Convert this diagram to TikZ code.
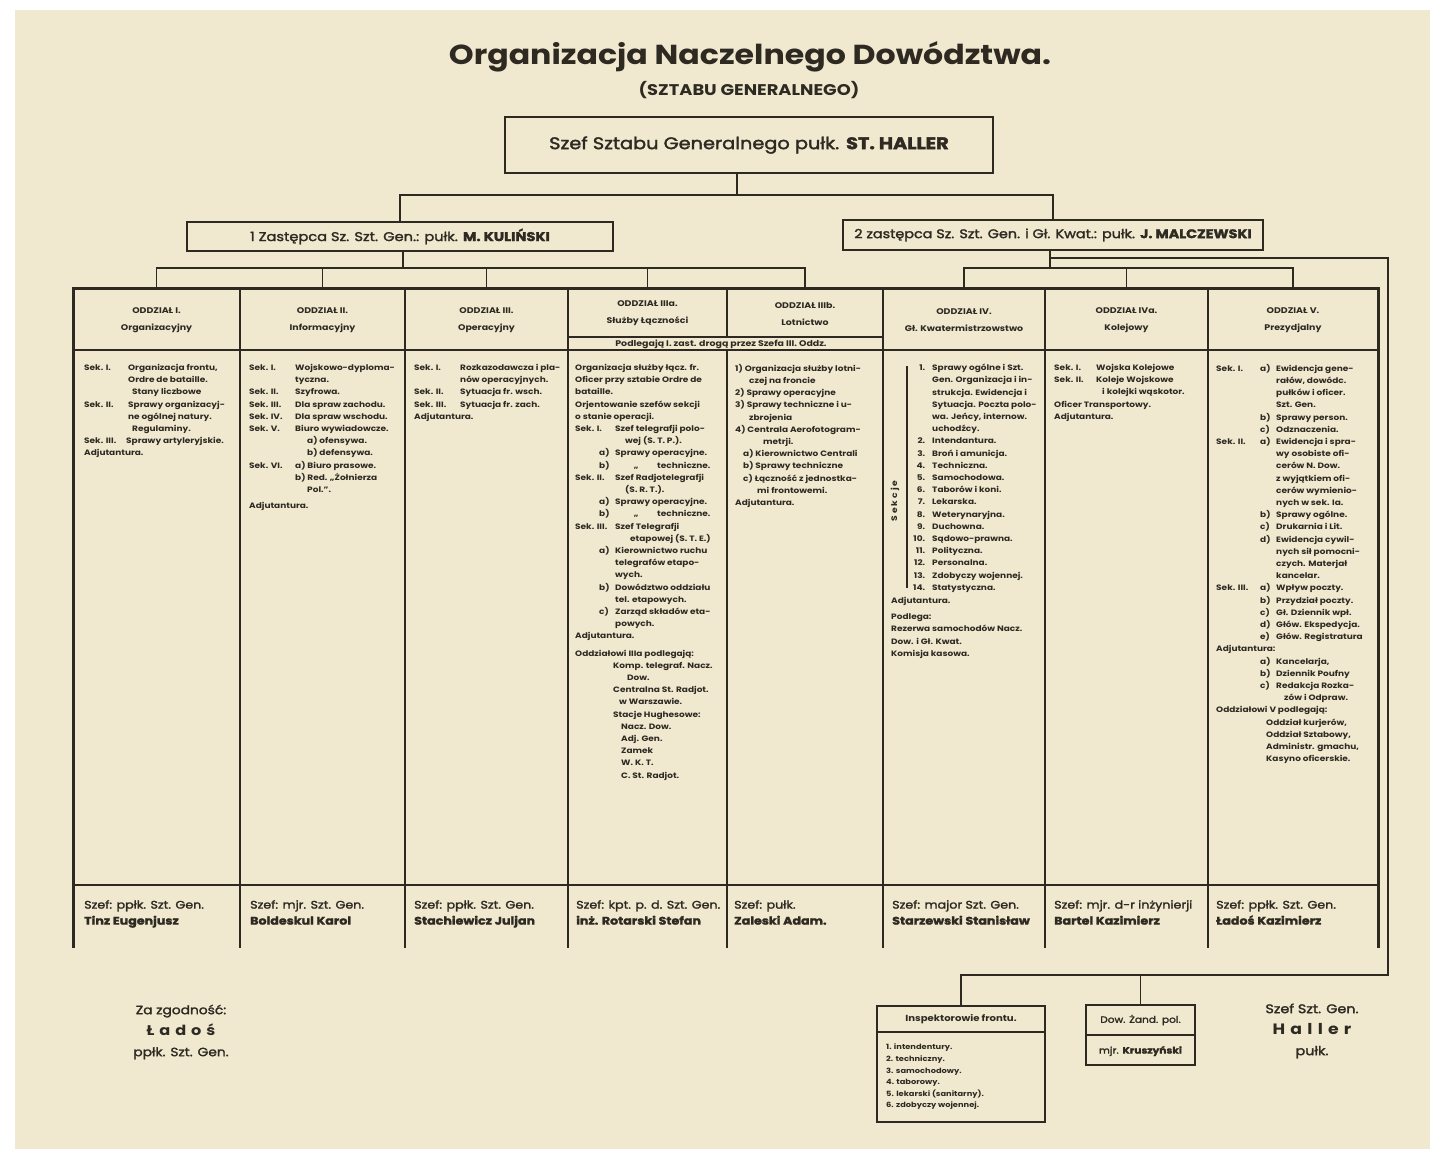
\documentclass[tikz,border=0pt]{standalone}
\usepackage{fontspec}
\setmainfont{Poppins}[FakeStretch=1.15]
\newfontfamily\semi{Poppins}[FakeStretch=1.15, FakeBold=2]
\newfontfamily\wide{Poppins}[FakeStretch=1.15, LetterSpace=35]
\usetikzlibrary{positioning,calc}
\definecolor{paper}{HTML}{F0E9D0}
\definecolor{ink}{HTML}{2E2A22}
\newcommand{\lbl}[2]{\makebox[#1][l]{#2}}
\newcommand{\indt}[1]{\hspace*{#1}}
\newcommand{\itm}[1]{\makebox[16pt][r]{#1}\hspace*{7pt}}

\begin{document}
\begin{tikzpicture}[x=1pt,y=-1pt,
every node/.style={text=ink},
box/.style={draw=ink, line width=1.5pt, inner sep=0pt},
cell/.style={inner sep=0pt, align=center, font=\bfseries\fontsize{8.2}{12}\selectfont},
body/.style={anchor=north west, inner sep=0pt, align=left, font=\bfseries\fontsize{7.8}{12.2}\selectfont},
chief/.style={anchor=north west, inner sep=0pt, align=left, font=\semi\fontsize{11}{16}\selectfont},
link/.style={draw=ink, line width=1.1pt},
grid/.style={draw=ink, line width=1.2pt},
]
\fill[white] (0,0) rectangle (1430,1149);
\fill[paper] (15,10) rectangle (1430,1149);
\useasboundingbox (0,0) rectangle (1430,1149);

%Nodes
\node (title) at (750,57) {\fontsize{27.5}{32}\selectfont\bfseries Organizacja Naczelnego Dowództwa.};
\node (subtitle) at (749,90) {\fontsize{15.5}{18}\selectfont\bfseries (SZTABU GENERALNEGO)};
\node[box, minimum width=488pt, minimum height=56pt] (chief) at (749,145)
  {\semi\fontsize{16.8}{18}\selectfont Szef Sztabu Generalnego pułk. \textbf{ST. HALLER}};
\node[box, minimum width=426pt, minimum height=29pt] (dep1) at (400,236.5)
  {\semi\fontsize{12.7}{14}\selectfont 1 Zastępca Sz. Szt. Gen.: pułk. \textbf{M. KULIŃSKI}};
\node[box, minimum width=420pt, minimum height=30pt] (dep2) at (1053,235)
  {\semi\fontsize{12.5}{14}\selectfont 2 zastępca Sz. Szt. Gen. i Gł. Kwat.: pułk. \textbf{J. MALCZEWSKI}};

% table heads
\foreach \cx/\w/\id/\nr/\ds in {156.5/167/1/I./Organizacyjny, 322.5/165/2/II./Informacyjny,
  486.5/163/3/III./Operacyjny, 964/162/6/IV./Gł. Kwatermistrzowstwo,
  1126.5/163/7/IVa./Kolejowy, 1293/170/8/V./Prezydjalny}
  \node[cell, minimum width=\w pt, minimum height=60pt] (h\id) at (\cx,320)
    {ODDZIAŁ \nr\\[5pt] \ds};
\node[cell, minimum width=159pt, minimum height=47pt] (h4) at (647.5,313.5)
  {ODDZIAŁ IIIa.\\[5pt] Służby Łączności};
\node[cell, minimum width=156pt, minimum height=47pt] (h5) at (805,313.5)
  {ODDZIAŁ IIIb.\\[5pt] Lotnictwo};
\node[cell] (sub45) at (721,344) {Podlegają I. zast. drogą przez Szefa III. Oddz.};

% table bodies
\node[body] (b1) at (84,364) {%
\lbl{44pt}{Sek. I.}Organizacja frontu,\\
\indt{44pt}Ordre de bataille.\\
\indt{48pt}Stany liczbowe\\
\lbl{44pt}{Sek. II.}Sprawy organizacyj-\\
\indt{44pt}ne ogólnej natury.\\
\indt{48pt}Regulaminy.\\
\lbl{42pt}{Sek. III.}Sprawy artyleryjskie.\\
Adjutantura.};
\node[body] (b2) at (249,364) {%
\lbl{46pt}{Sek. I.}Wojskowo-dyploma-\\
\indt{46pt}tyczna.\\
\lbl{46pt}{Sek. II.}Szyfrowa.\\
\lbl{46pt}{Sek. III.}Dla spraw zachodu.\\
\lbl{46pt}{Sek. IV.}Dla spraw wschodu.\\
\lbl{46pt}{Sek. V.}Biuro wywiadowcze.\\
\indt{58pt}a) ofensywa.\\
\indt{58pt}b) defensywa.\\
\lbl{46pt}{Sek. VI.}a) Biuro prasowe.\\
\indt{46pt}b) Red. „Żołnierza\\
\indt{58pt}Pol.”.\\[4pt]
Adjutantura.};
\node[body] (b3) at (414,364) {%
\lbl{46pt}{Sek. I.}Rozkazodawcza i pla-\\
\indt{46pt}nów operacyjnych.\\
\lbl{46pt}{Sek. II.}Sytuacja fr. wsch.\\
\lbl{46pt}{Sek. III.}Sytuacja fr. zach.\\
Adjutantura.};
\node[body] (b4) at (575,364) {%
Organizacja służby łącz. fr.\\
Oficer przy sztabie Ordre de\\
bataille.\\
Orjentowanie szefów sekcji\\
o stanie operacji.\\
\lbl{40pt}{Sek. I.}Szef telegrafji polo-\\
\indt{50pt}wej (S. T. P.).\\
\indt{24pt}\lbl{16pt}{a)}Sprawy operacyjne.\\
\indt{24pt}\lbl{16pt}{b)}\makebox[42pt][c]{„}techniczne.\\
\lbl{40pt}{Sek. II.}Szef Radjotelegrafji\\
\indt{50pt}(S. R. T.).\\
\indt{24pt}\lbl{16pt}{a)}Sprawy operacyjne.\\
\indt{24pt}\lbl{16pt}{b)}\makebox[42pt][c]{„}techniczne.\\
\lbl{40pt}{Sek. III.}Szef Telegrafji\\
\indt{55pt}etapowej (S. T. E.)\\
\indt{24pt}\lbl{16pt}{a)}Kierownictwo ruchu\\
\indt{40pt}telegrafów etapo-\\
\indt{40pt}wych.\\
\indt{24pt}\lbl{16pt}{b)}Dowództwo oddziału\\
\indt{40pt}tel. etapowych.\\
\indt{24pt}\lbl{16pt}{c)}Zarząd składów eta-\\
\indt{40pt}powych.\\
Adjutantura.\\[5pt]
Oddziałowi IIIa podlegają:\\
\indt{38pt}Komp. telegraf. Nacz.\\
\indt{52pt}Dow.\\
\indt{38pt}Centralna St. Radjot.\\
\indt{44pt}w Warszawie.\\
\indt{38pt}Stacje Hughesowe:\\
\indt{46pt}Nacz. Dow.\\
\indt{46pt}Adj. Gen.\\
\indt{46pt}Zamek\\
\indt{46pt}W. K. T.\\
\indt{46pt}C. St. Radjot.};
\node[body] (b5) at (735,364) {%
1) Organizacja służby lotni-\\
\indt{14pt}czej na froncie\\
2) Sprawy operacyjne\\
3) Sprawy techniczne i u-\\
\indt{14pt}zbrojenia\\
4) Centrala Aerofotogram-\\
\indt{28pt}metrji.\\
\indt{8pt}a) Kierownictwo Centrali\\
\indt{8pt}b) Sprawy techniczne\\
\indt{8pt}c) Łączność z jednostka-\\
\indt{22pt}mi frontowemi.\\
Adjutantura.};
\node[body] (b6) at (909,364) {%
\itm{1.}Sprawy ogólne i Szt.\\
\indt{23pt}Gen. Organizacja i in-\\
\indt{23pt}strukcja. Ewidencja i\\
\indt{23pt}Sytuacja. Poczta polo-\\
\indt{23pt}wa. Jeńcy, internow.\\
\indt{23pt}uchodźcy.\\
\itm{2.}Intendantura.\\
\itm{3.}Broń i amunicja.\\
\itm{4.}Techniczna.\\
\itm{5.}Samochodowa.\\
\itm{6.}Taborów i koni.\\
\itm{7.}Lekarska.\\
\itm{8.}Weterynaryjna.\\
\itm{9.}Duchowna.\\
\itm{10.}Sądowo-prawna.\\
\itm{11.}Polityczna.\\
\itm{12.}Personalna.\\
\itm{13.}Zdobyczy wojennej.\\
\itm{14.}Statystyczna.};
\node[body] (a6) at (891,597) {%
Adjutantura.\\[4pt]
Podlega:\\
Rezerwa samochodów Nacz.\\
Dow. i Gł. Kwat.\\
Komisja kasowa.};
\node[rotate=90, inner sep=0pt, font=\bfseries\fontsize{8}{9}\selectfont] (sek) at (895,501) {S e k c j e};
\node[body] (b7) at (1054,364) {%
\lbl{42pt}{Sek. I.}Wojska Kolejowe\\
\lbl{42pt}{Sek. II.}Koleje Wojskowe\\
\indt{48pt}i kolejki wąskotor.\\
Oficer Transportowy.\\
Adjutantura.};
\node[body] (b8) at (1216,364) {%
\lbl{44pt}{Sek. I.}\lbl{16pt}{a)}Ewidencja gene-\\
\indt{60pt}rałów, dowódc.\\
\indt{60pt}pułków i oficer.\\
\indt{60pt}Szt. Gen.\\
\indt{44pt}\lbl{16pt}{b)}Sprawy person.\\
\indt{44pt}\lbl{16pt}{c)}Odznaczenia.\\
\lbl{44pt}{Sek. II.}\lbl{16pt}{a)}Ewidencja i spra-\\
\indt{60pt}wy osobiste ofi-\\
\indt{60pt}cerów N. Dow.\\
\indt{60pt}z wyjątkiem ofi-\\
\indt{60pt}cerów wymienio-\\
\indt{60pt}nych w sek. Ia.\\
\indt{44pt}\lbl{16pt}{b)}Sprawy ogólne.\\
\indt{44pt}\lbl{16pt}{c)}Drukarnia i Lit.\\
\indt{44pt}\lbl{16pt}{d)}Ewidencja cywil-\\
\indt{60pt}nych sił pomocni-\\
\indt{60pt}czych. Materjał\\
\indt{60pt}kancelar.\\
\lbl{44pt}{Sek. III.}\lbl{16pt}{a)}Wpływ poczty.\\
\indt{44pt}\lbl{16pt}{b)}Przydział poczty.\\
\indt{44pt}\lbl{16pt}{c)}Gł. Dziennik wpł.\\
\indt{44pt}\lbl{16pt}{d)}Głów. Ekspedycja.\\
\indt{44pt}\lbl{16pt}{e)}Głów. Registratura\\
Adjutantura:\\
\indt{44pt}\lbl{16pt}{a)}Kancelarja,\\
\indt{44pt}\lbl{16pt}{b)}Dziennik Poufny\\
\indt{44pt}\lbl{16pt}{c)}Redakcja Rozka-\\
\indt{68pt}zów i Odpraw.\\
Oddziałowi V podlegają:\\
\indt{50pt}Oddział kurjerów,\\
\indt{50pt}Oddział Sztabowy,\\
\indt{50pt}Administr. gmachu,\\
\indt{50pt}Kasyno oficerskie.};

% chiefs of sections
\node[chief] (s1) at (84,900) {Szef: ppłk. Szt. Gen.\\\textbf{Tinz Eugenjusz}};
\node[chief] (s2) at (250,900) {Szef: mjr. Szt. Gen.\\\textbf{Boldeskul Karol}};
\node[chief] (s3) at (414,900) {Szef: ppłk. Szt. Gen.\\\textbf{Stachiewicz Juljan}};
\node[chief] (s4) at (576,900) {Szef: kpt. p. d. Szt. Gen.\\\textbf{inż. Rotarski Stefan}};
\node[chief] (s5) at (734,900) {Szef: pułk.\\\textbf{Zaleski Adam.}};
\node[chief] (s6) at (892,900) {Szef: major Szt. Gen.\\\textbf{Starzewski Stanisław}};
\node[chief] (s7) at (1054,900) {Szef: mjr. d-r inżynierji\\\textbf{Bartel Kazimierz}};
\node[chief] (s8) at (1216,900) {Szef: ppłk. Szt. Gen.\\\textbf{Ładoś Kazimierz}};

% bottom boxes
\node[box, minimum width=168pt, minimum height=116pt] (insp) at (961,1064) {};
\node[cell, font=\fontsize{8.8}{10}\selectfont\bfseries] (insph) at (961,1019) {Inspektorowie frontu.};
\node[body, font=\bfseries\fontsize{7.2}{11.6}\selectfont] (inspl) at (886,1044) {%
1. intendentury.\\
2. techniczny.\\
3. samochodowy.\\
4. taborowy.\\
5. lekarski (sanitarny).\\
6. zdobyczy wojennej.};
\node[box, minimum width=109pt, minimum height=60pt] (zand) at (1140.5,1035) {};
\node[cell, font=\semi\fontsize{9.2}{10}\selectfont] (zandh) at (1140.5,1020) {Dow. Żand. pol.};
\node[cell, font=\semi\fontsize{9.2}{10}\selectfont] (zandn) at (1140.5,1051) {mjr. \textbf{Kruszyński}};

% signatures
\node[align=center, font=\semi\fontsize{12}{21}\selectfont] (sigl) at (181,1032)
  {Za zgodność:\\{\wide\bfseries\fontsize{14}{21}\selectfont Ładoś}\\ppłk. Szt. Gen.};
\node[align=center, font=\semi\fontsize{12.5}{21}\selectfont] (sigr) at (1312,1031)
  {Szef Szt. Gen.\\{\wide\bfseries\fontsize{15}{21}\selectfont Haller}\\pułk.};

%Table
\foreach \x in {240,405,568,883,1045,1208}
  \draw[grid] (\x,290) -- (\x,948);
\draw[grid] (727,290) -- (727,337);
\draw[grid] (727,350) -- (727,948);
\draw[grid] (568,337) -- (883,337);
\draw[grid, line width=1.6pt] (73,350) -- (1378,350);
\draw[grid, line width=1.6pt] (73,885) -- (1378,885);
\draw[draw=ink, line width=3pt] (73,948) -- (73,288) -- (1378,288) -- (1378,948);
\draw[grid] (907,366) -- (907,588);
\draw[grid] (insp.west |- 0,1032) -- (insp.east |- 0,1032);
\draw[grid] (zand.west) -- (zand.east);

%Lines
\coordinate (top) at (737,195);
\coordinate (bar1) at (403,268);
\coordinate (bar2) at (1050,268);
\coordinate (rail) at (1050,258);
\coordinate (edge) at (1388,258);
\coordinate (foot) at (1388,975);
\draw[link] (chief.south -| top) -- (top);
\draw[link] (dep1.north) |- (top) -| (dep2.north);
\draw[link] (dep1.south -| bar1) -- (bar1);
\draw[link] (h1.north) |- (h5.north |- bar1) -- (h5.north);
\foreach \k in {2,3,4}
  \draw[link] (h\k.north) -- (h\k.north |- bar1);
\draw[link] (dep2.south -| bar2) -- (bar2);
\draw[link] (h6.north) |- (h8.north |- bar2) -- (h8.north);
\draw[link] (h7.north) -- (h7.north |- bar2);
\draw[link] (rail) -- (edge) -- (foot) -- (insp.north |- foot) -- (insp.north);
\draw[link] (zand.north) -- (zand.north |- foot);

\end{tikzpicture}
\end{document}
